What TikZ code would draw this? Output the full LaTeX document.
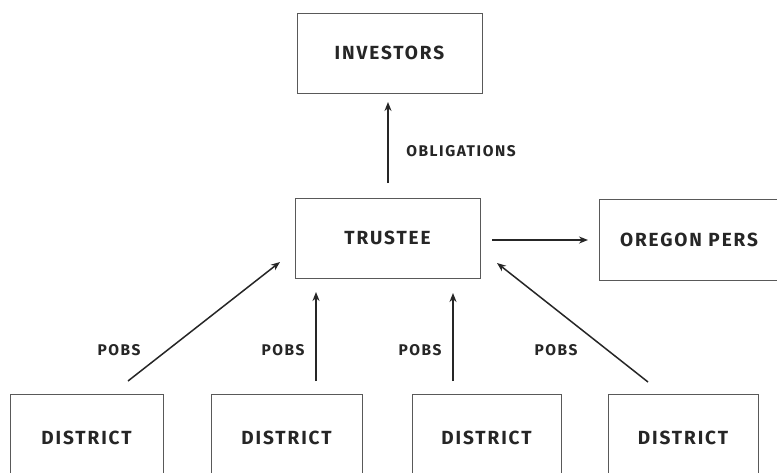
\documentclass[tikz,border=0pt]{standalone}
\usepackage{fontspec}
\setmainfont{Fira Sans}[LetterSpace=10]
\usetikzlibrary{arrows.meta}
\tikzset{
  box/.style={draw=black!65, line width=0.8pt, rectangle, inner sep=0pt, font=\fontsize{19}{22}\selectfont\bfseries, text=black!85},
  lbl/.style={inner sep=0pt, font=\fontsize{15.5}{18}\selectfont\bfseries, text=black!85},
  flow/.style={draw=black!85, line width=1.5pt, -{Stealth[length=9pt,width=7pt]}}
}
\begin{document}
\begin{tikzpicture}[x=1pt,y=-1pt]
\useasboundingbox (0,0) rectangle (777,472);
\fill[white] (0,0) rectangle (777,472);
\clip (0,0) rectangle (777,472);
\node[box, minimum width=185pt, minimum height=80pt] (inv) at (389.5,53) {INVESTORS};
\node[box, minimum width=185pt, minimum height=80pt] (tru) at (387.5,238) {TRUSTEE};
\node[box, minimum width=180pt, minimum height=81pt] (ore) at (689,239.5) {OREGON PERS};
\node[box, minimum width=153pt, minimum height=88pt] (d1) at (86.5,438) {DISTRICT};
\node[box, minimum width=151pt, minimum height=88pt] (d2) at (286.5,438) {DISTRICT};
\node[box, minimum width=149pt, minimum height=88pt] (d3) at (486.5,438) {DISTRICT};
\node[box, minimum width=150pt, minimum height=88pt] (d4) at (683,438) {DISTRICT};
% arrow endpoints
\coordinate (obS) at (388,183);
\coordinate (obE) at (388,102);
\coordinate (hS) at (492,240);
\coordinate (hE) at (588,240);
\coordinate (a1S) at (128,381);
\coordinate (a1E) at (280,262);
\coordinate (a2S) at (316,381);
\coordinate (a2E) at (316,292);
\coordinate (a3S) at (453,381);
\coordinate (a3E) at (453,293);
\coordinate (a4S) at (648,382);
\coordinate (a4E) at (497,263);
\draw[flow] (obS) -- (obE);
\draw[flow] (hS) -- (hE);
\draw[flow] (a1S) -- (a1E);
\draw[flow] (a2S) -- (a2E);
\draw[flow] (a3S) -- (a3E);
\draw[flow] (a4S) -- (a4E);
\node[lbl] (lob) at (461,151) {OBLIGATIONS};
\node[lbl] (p1) at (119,350) {POBS};
\node[lbl] (p2) at (283,350) {POBS};
\node[lbl] (p3) at (420,350) {POBS};
\node[lbl] (p4) at (556,350) {POBS};
\end{tikzpicture}
\end{document}
